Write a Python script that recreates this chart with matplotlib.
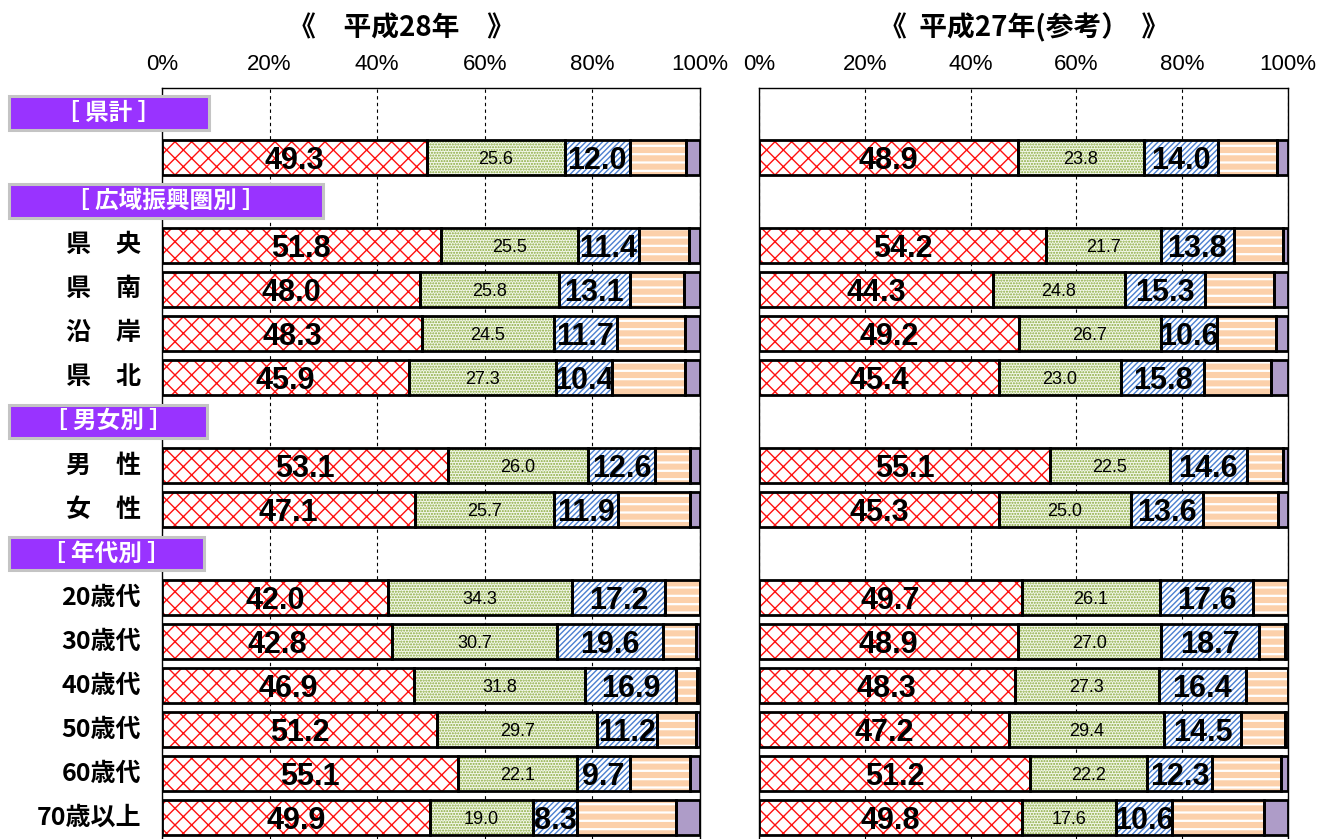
import matplotlib
matplotlib.use("Agg")
import matplotlib.pyplot as plt
import matplotlib.transforms as mtransforms
from matplotlib.patches import Rectangle
from matplotlib import font_manager

# ---- data -------------------------------------------------------------
categories = ['県　計', '県　央', '県　南', '沿　岸', '県　北', '男　性', '女　性',
              '20歳代', '30歳代', '40歳代', '50歳代', '60歳代', '70歳以上']
show_label = [False, True, True, True, True, True, True,
              True, True, True, True, True, True]
groups = ['［ 県計 ］', '［ 広域振興圏別 ］', '［ 男女別 ］', '［ 年代別 ］']

red28 = [49.3, 51.8, 48.0, 48.3, 45.9, 53.1, 47.1, 42.0, 42.8, 46.9, 51.2, 55.1, 49.9]
green28 = [25.6, 25.5, 25.8, 24.5, 27.3, 26.0, 25.7, 34.3, 30.7, 31.8, 29.7, 22.1, 19.0]
blue28 = [12.0, 11.4, 13.1, 11.7, 10.4, 12.6, 11.9, 17.2, 19.6, 16.9, 11.2, 9.7, 8.3]
orange28 = [10.5, 9.3, 10.1, 12.8, 13.7, 6.4, 13.4, 6.5, 6.2, 3.9, 7.2, 11.2, 18.3]
purple28 = [2.6, 2.0, 3.0, 2.7, 2.7, 1.9, 1.9, 0.0, 0.7, 0.5, 0.7, 1.9, 4.5]

red27 = [48.9, 54.2, 44.3, 49.2, 45.4, 55.1, 45.3, 49.7, 48.9, 48.3, 47.2, 51.2, 49.8]
green27 = [23.8, 21.7, 24.8, 26.7, 23.0, 22.5, 25.0, 26.1, 27.0, 27.3, 29.4, 22.2, 17.6]
blue27 = [14.0, 13.8, 15.3, 10.6, 15.8, 14.6, 13.6, 17.6, 18.7, 16.4, 14.5, 12.3, 10.6]
orange27 = [11.3, 9.3, 13.0, 11.3, 12.5, 6.8, 14.2, 6.6, 4.9, 8.0, 8.4, 13.0, 17.5]
purple27 = [2.0, 1.0, 2.6, 2.2, 3.3, 1.0, 1.9, 0.0, 0.5, 0.0, 0.5, 1.3, 4.5]

xticks = [0, 20, 40, 60, 80, 100]
xticklabels = ['0%', '20%', '40%', '60%', '80%', '100%']
title28 = '《　平成28年　》'
title27 = '《  平成27年(参考）  》'

# ---- layout -----------------------------------------------------------
# row slots: group headers and bars share one evenly spaced grid
bar_rows = [1, 3, 4, 5, 6, 8, 9, 11, 12, 13, 14, 15, 16]
group_rows = [0, 2, 7, 10]
group_box_w = [200, 314, 198, 195]   # header box widths in pixels

W, H = 1326, 839
fig = plt.figure(figsize=(W / 100, H / 100), dpi=100)

names = {f.name for f in font_manager.fontManager.ttflist}
NUM_FONT = 'Liberation Sans Narrow' if 'Liberation Sans Narrow' in names else 'Liberation Sans'
CJK = ['Noto Sans CJK JP', 'DejaVu Sans']


def fx(px):
    return px / W


def fy(py):
    return 1 - py / H


top_px = 88
ax28 = fig.add_axes([fx(162), 0, fx(700) - fx(162), fy(top_px)])
ax27 = fig.add_axes([fx(759), 0, fx(1288) - fx(759), fy(top_px)])

styles = [
    # face, hatch colour, hatch, hatch linewidth
    ('white', '#ff1010', 'xx', 1.0),
    ('#f3f7ea', '#86a838', '......', 1.0),
    ('white', '#4a7fd0', '//////', 1.0),
    ('#fcd0aa', 'white', '--', 1.6),
    ('#ae9cc8', '#ae9cc8', '', 1.0),
]


def draw_panel(ax, red, green, blue, orange, purple):
    series = [red, green, blue, orange, purple]
    left = [0.0] * len(red)
    h = 0.80
    for vals, (face, hcol, hatch, hlw) in zip(series, styles):
        with plt.rc_context({'hatch.linewidth': hlw}):
            ax.barh(bar_rows, vals, left=left, height=h, color=face,
                    edgecolor=hcol, hatch=hatch, linewidth=0, zorder=2)
        ax.barh(bar_rows, vals, left=left, height=h, color='none',
                edgecolor='black', linewidth=2.0, zorder=3)
        left = [l + v for l, v in zip(left, vals)]

    # value labels
    for y, r, g, b in zip(bar_rows, red, green, blue):
        ax.text(r / 2, y, f'{r:.1f}', ha='center', va='center_baseline',
                fontsize=22, fontweight='bold', family=NUM_FONT, zorder=5)
        ax.text(r + g / 2, y, f'{g:.1f}', ha='center', va='center_baseline',
                fontsize=13, family=NUM_FONT, zorder=5)
        ax.text(r + g + b / 2, y, f'{b:.1f}', ha='center', va='center_baseline',
                fontsize=22, fontweight='bold', family=NUM_FONT, zorder=5)

    ax.set_xlim(0, 100)
    ax.set_ylim(16.48, -0.57)
    ax.xaxis.tick_top()
    ax.set_xticks(xticks)
    ax.set_xticklabels(xticklabels, family=NUM_FONT, fontsize=16)
    ax.tick_params(axis='x', length=0, pad=9)
    ax.set_yticks([])
    ax.grid(axis='x', color='black', linestyle=(0, (3, 3)), linewidth=0.8)
    ax.set_axisbelow(True)
    for s in ('left', 'right', 'top'):
        ax.spines[s].set_linewidth(1.0)
        ax.spines[s].set_color('black')
    ax.spines['bottom'].set_visible(False)


draw_panel(ax28, red28, green28, blue28, orange28, purple28)
draw_panel(ax27, red27, green27, blue27, orange27, purple27)

# row labels on the left
lab_tr = mtransforms.blended_transform_factory(fig.transFigure, ax28.transData)
for y, name, show in zip(bar_rows, categories, show_label):
    if show:
        ax28.text(fx(141), y, name, transform=lab_tr, ha='right', va='center',
                  fontsize=18, fontweight='bold', family=CJK, clip_on=False)

# group header boxes
for y, name, wpx in zip(group_rows, groups, group_box_w):
    rect = Rectangle((fx(9), y - 0.38), fx(wpx), 0.76, transform=lab_tr,
                     facecolor='#9933ff', edgecolor='#c4c4c4', linewidth=2.2,
                     clip_on=False, zorder=10)
    ax28.add_artist(rect)
    ax28.text(fx(9 + wpx / 2), y, name, transform=lab_tr, ha='center', va='center',
              fontsize=17, fontweight='bold', color='white', family=CJK,
              clip_on=False, zorder=11)

# panel titles
fig.text(fx(401), fy(28), title28, ha='center', va='center', fontsize=20,
         fontweight='bold', family=CJK)
fig.text(fx(1024), fy(28), title27, ha='center', va='center', fontsize=20,
         fontweight='bold', family=CJK)

fig.savefig('out.png', dpi=100)
